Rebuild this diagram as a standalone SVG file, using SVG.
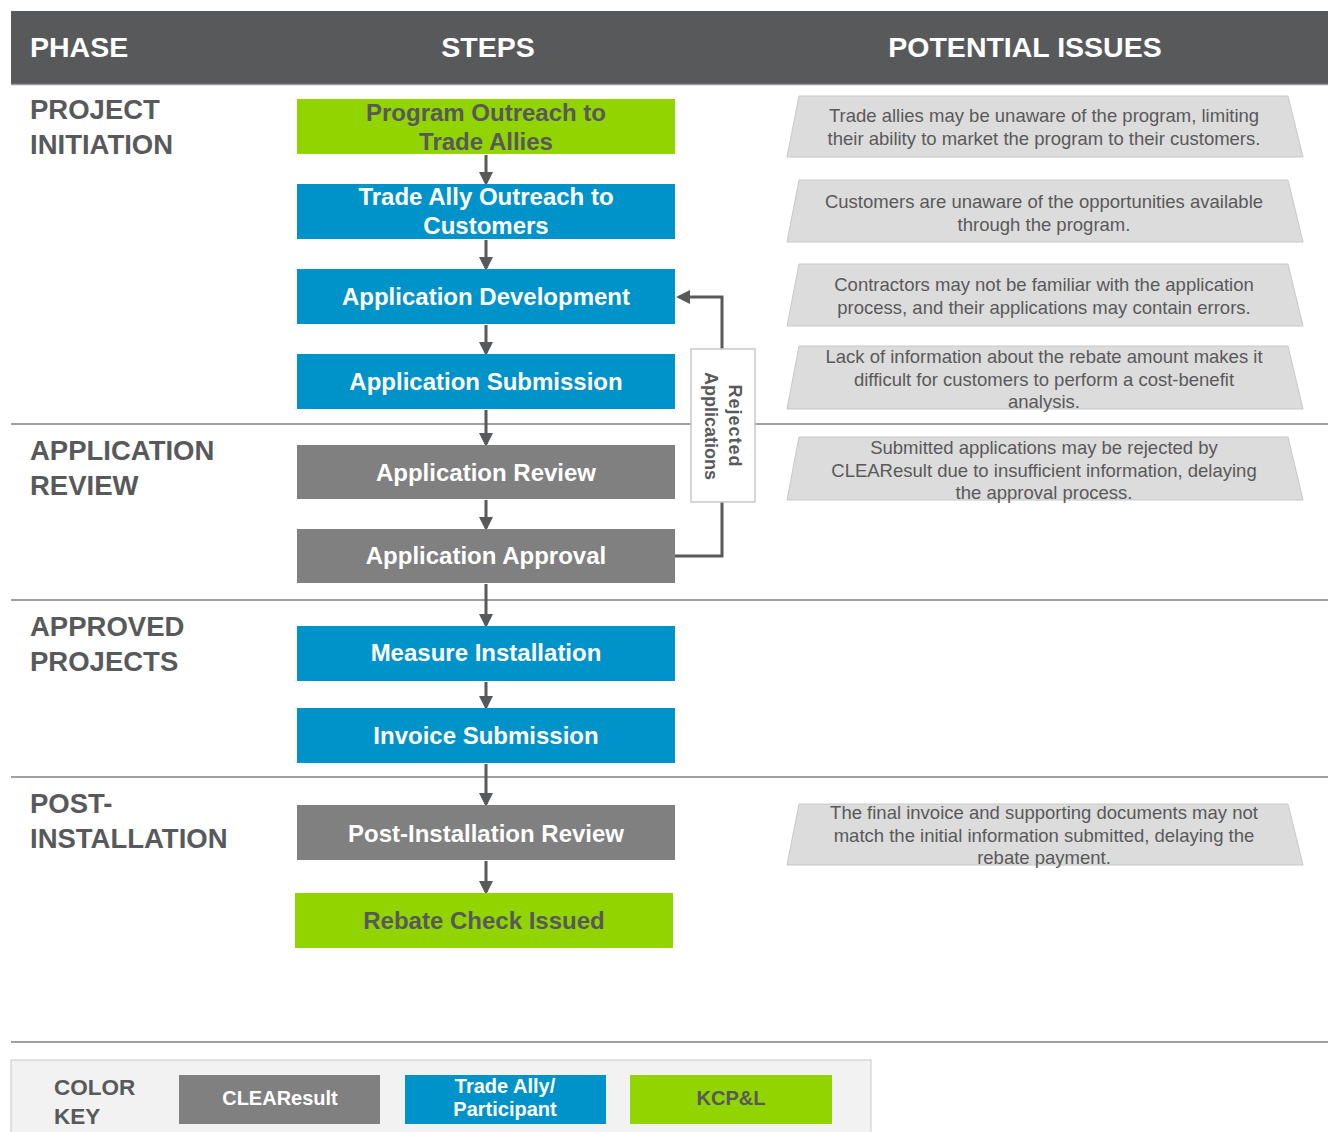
<svg xmlns="http://www.w3.org/2000/svg" width="1329" height="1132" viewBox="0 0 1329 1132">
<style>
.hdr{font-family:"Liberation Sans",Arial,sans-serif;font-weight:bold;font-size:28.5px;fill:#ffffff}
.ph{font-family:"Liberation Sans",Arial,sans-serif;font-weight:bold;font-size:27.5px;fill:#58595b}
.st{font-family:"Liberation Sans",Arial,sans-serif;font-weight:bold;font-size:24px;fill:#ffffff;text-anchor:middle}
.stg{font-family:"Liberation Sans",Arial,sans-serif;font-weight:bold;font-size:24px;fill:#58595b;text-anchor:middle}
.iss{font-family:"Liberation Sans",Arial,sans-serif;font-size:18.5px;fill:#595959;text-anchor:middle}
.blue{fill:#0093c9}
.gray{fill:#808080}
.green{fill:#92d400}
.trap{fill:#dcdcdc;stroke:#c8c8c8;stroke-width:1}
.sep{stroke:#a0a0a0;stroke-width:2}
.conn{stroke:#58595b;stroke-width:3;fill:none}
.key{font-family:"Liberation Sans",Arial,sans-serif;font-weight:bold;font-size:20px;fill:#ffffff;text-anchor:middle}
.rej{font-family:"Liberation Sans",Arial,sans-serif;font-weight:bold;font-size:18px;fill:#58595b;text-anchor:middle}
</style>
<defs>
<marker id="ah" markerWidth="14" markerHeight="14" refX="11" refY="7" orient="auto" markerUnits="userSpaceOnUse" viewBox="0 0 14 14">
<path d="M0,0 L14,7 L0,14 z" fill="#58595b"/>
</marker>
</defs>
<rect width="1329" height="1132" fill="#ffffff"/>
<g id="header">
<rect x="11" y="11" width="1317" height="73" fill="#58595b"/>
<line x1="11" y1="84.5" x2="1328" y2="84.5" stroke="#9a9a9a" stroke-width="1.5"/>
<text class="hdr" x="30" y="57">PHASE</text>
<text class="hdr" x="488" y="57" text-anchor="middle">STEPS</text>
<text class="hdr" x="1025" y="57" text-anchor="middle">POTENTIAL ISSUES</text>
</g>
<g id="separators">
<line class="sep" x1="11" y1="424" x2="1328" y2="424"/>
<line class="sep" x1="11" y1="600" x2="1328" y2="600"/>
<line class="sep" x1="11" y1="777" x2="1328" y2="777"/>
<line class="sep" x1="11" y1="1042" x2="1328" y2="1042"/>
</g>
<g id="phases">
<text class="ph" x="30" y="119">PROJECT</text>
<text class="ph" x="30" y="154">INITIATION</text>
<text class="ph" x="30" y="460">APPLICATION</text>
<text class="ph" x="30" y="495">REVIEW</text>
<text class="ph" x="30" y="636">APPROVED</text>
<text class="ph" x="30" y="671">PROJECTS</text>
<text class="ph" x="30" y="813">POST-</text>
<text class="ph" x="30" y="848">INSTALLATION</text>
</g>
<g id="connectors">
<line class="conn" x1="486" y1="155" x2="486" y2="183" marker-end="url(#ah)"/>
<line class="conn" x1="486" y1="240" x2="486" y2="268" marker-end="url(#ah)"/>
<line class="conn" x1="486" y1="325" x2="486" y2="353" marker-end="url(#ah)"/>
<line class="conn" x1="486" y1="410" x2="486" y2="444" marker-end="url(#ah)"/>
<line class="conn" x1="486" y1="500" x2="486" y2="528" marker-end="url(#ah)"/>
<line class="conn" x1="486" y1="584" x2="486" y2="625" marker-end="url(#ah)"/>
<line class="conn" x1="486" y1="682" x2="486" y2="707" marker-end="url(#ah)"/>
<line class="conn" x1="486" y1="764" x2="486" y2="804" marker-end="url(#ah)"/>
<line class="conn" x1="486" y1="861" x2="486" y2="892" marker-end="url(#ah)"/>
<path class="conn" d="M675,556 H722 V297 H679" marker-end="url(#ah)"/>
</g>
<g id="rejected-label">
<rect x="691" y="349" width="64" height="153" fill="#ffffff" stroke="#c8c8c8" stroke-width="1.5"/>
<text class="rej" transform="translate(735,426) rotate(90)" letter-spacing="1" dy="6">Rejected</text>
<text class="rej" transform="translate(711,426) rotate(90)" dy="6">Applications</text>
</g>
<g id="step-program-outreach">
<rect class="green" x="297" y="99" width="378" height="55"/>
<text class="stg" x="486" y="121">Program Outreach to</text>
<text class="stg" x="486" y="150">Trade Allies</text>
</g>
<g id="step-trade-ally-outreach">
<rect class="blue" x="297" y="184" width="378" height="55"/>
<text class="st" x="486" y="205">Trade Ally Outreach to</text>
<text class="st" x="486" y="234">Customers</text>
</g>
<g id="step-application-development">
<rect class="blue" x="297" y="269" width="378" height="55"/>
<text class="st" x="486" y="305">Application Development</text>
</g>
<g id="step-application-submission">
<rect class="blue" x="297" y="354" width="378" height="55"/>
<text class="st" x="486" y="390">Application Submission</text>
</g>
<g id="step-application-review">
<rect class="gray" x="297" y="445" width="378" height="54"/>
<text class="st" x="486" y="481">Application Review</text>
</g>
<g id="step-application-approval">
<rect class="gray" x="297" y="529" width="378" height="54"/>
<text class="st" x="486" y="564">Application Approval</text>
</g>
<g id="step-measure-installation">
<rect class="blue" x="297" y="626" width="378" height="55"/>
<text class="st" x="486" y="661">Measure Installation</text>
</g>
<g id="step-invoice-submission">
<rect class="blue" x="297" y="708" width="378" height="55"/>
<text class="st" x="486" y="744">Invoice Submission</text>
</g>
<g id="step-post-installation-review">
<rect class="gray" x="297" y="805" width="378" height="55"/>
<text class="st" x="486" y="842">Post-Installation Review</text>
</g>
<g id="step-rebate-check">
<rect class="green" x="295" y="893" width="378" height="55"/>
<text class="stg" x="484" y="929">Rebate Check Issued</text>
</g>
<g id="issue-1">
<polygon class="trap" points="799,96 1288,96 1303,157 787,157"/>
<text class="iss" x="1044" y="122">Trade allies may be unaware of the program, limiting</text>
<text class="iss" x="1044" y="145">their ability to market the program to their customers.</text>
</g>
<g id="issue-2">
<polygon class="trap" points="799,180 1288,180 1303,242 787,242"/>
<text class="iss" x="1044" y="208">Customers are unaware of the opportunities available</text>
<text class="iss" x="1044" y="231">through the program.</text>
</g>
<g id="issue-3">
<polygon class="trap" points="799,264 1288,264 1303,326 787,326"/>
<text class="iss" x="1044" y="291">Contractors may not be familiar with the application</text>
<text class="iss" x="1044" y="314">process, and their applications may contain errors.</text>
</g>
<g id="issue-4">
<polygon class="trap" points="799,346 1288,346 1303,409 787,409"/>
<text class="iss" x="1044" y="363">Lack of information about the rebate amount makes it</text>
<text class="iss" x="1044" y="386">difficult for customers to perform a cost-benefit</text>
<text class="iss" x="1044" y="408">analysis.</text>
</g>
<g id="issue-5">
<polygon class="trap" points="799,437 1288,437 1303,500 787,500"/>
<text class="iss" x="1044" y="454">Submitted applications may be rejected by</text>
<text class="iss" x="1044" y="477">CLEAResult due to insufficient information, delaying</text>
<text class="iss" x="1044" y="499">the approval process.</text>
</g>
<g id="issue-6">
<polygon class="trap" points="799,804 1288,804 1303,865 787,865"/>
<text class="iss" x="1044" y="819">The final invoice and supporting documents may not</text>
<text class="iss" x="1044" y="842">match the initial information submitted, delaying the</text>
<text class="iss" x="1044" y="864">rebate payment.</text>
</g>
<g id="color-key">
<rect x="11" y="1060" width="860" height="80" fill="#f2f2f2" stroke="#c8c8c8" stroke-width="1"/>
<text class="ph" x="54" y="1095" font-size="22.5" style="font-size:22.5px">COLOR</text>
<text class="ph" x="54" y="1124" style="font-size:22.5px">KEY</text>
<rect class="gray" x="179" y="1075" width="201" height="49"/>
<text class="key" x="280" y="1105">CLEAResult</text>
<rect class="blue" x="405" y="1075" width="201" height="49"/>
<text class="key" x="505" y="1093">Trade Ally/</text>
<text class="key" x="505" y="1116">Participant</text>
<rect class="green" x="630" y="1075" width="202" height="49"/>
<text class="key" x="731" y="1105" style="fill:#58595b">KCP&amp;L</text>
</g>
</svg>
